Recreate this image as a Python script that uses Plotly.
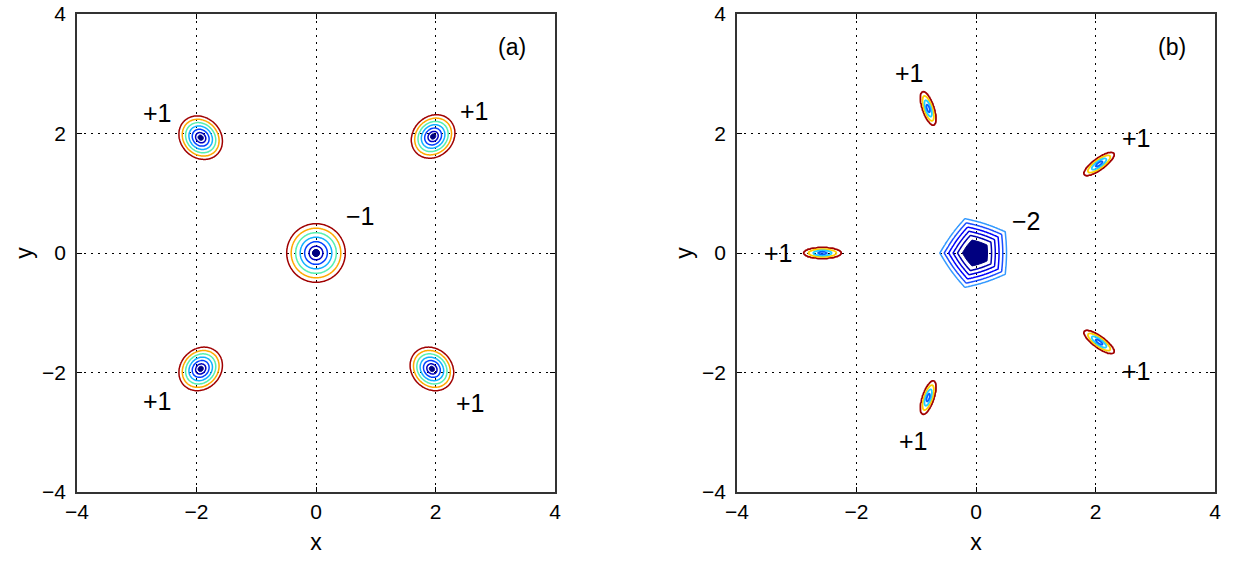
import numpy as np
import plotly.graph_objects as go

# ---------------- data ----------------
# panel (a): five vortex blobs
A_X = [-1.93, 1.96, 0.0, -1.93, 1.94]
A_Y = [1.93, 1.95, 0.0, -1.94, -1.94]
A_MAJOR = [0.40, 0.40, 0.50, 0.40, 0.40]   # half-size along radial direction
A_MINOR = [0.34, 0.34, 0.50, 0.34, 0.34]   # half-size across
A_LABELS = ["+1", "+1", "\u22121", "+1", "+1"]
A_LABEL_X = [-2.66, 2.66, 0.74, -2.66, 2.58]
A_LABEL_Y = [2.34, 2.38, 0.62, -2.48, -2.51]

# panel (b): central pentagonal vortex + five satellites
B_CORE_X = 0.0
B_CORE_Y = 0.0
B_CORE_R = 0.63            # pentagon circumradius
B_CORE_VERTEX_DEG = 180.0  # one vertex points to -x
B_SAT_X = [2.06, -0.80, -2.57, -0.80, 2.06]
B_SAT_Y = [1.49, 2.42, 0.0, -2.42, -1.49]
B_SAT_HALF_LEN = [0.31, 0.30, 0.32, 0.30, 0.31]
B_SAT_HALF_WID = [0.095, 0.095, 0.09, 0.095, 0.095]
B_LABELS = ["+1", "+1", "+1", "+1", "+1", "\u22122"]
B_LABEL_X = [2.68, -1.12, -3.30, -1.04, 2.68, 0.85]
B_LABEL_Y = [1.92, 3.01, 0.0, -3.15, -1.97, 0.54]

TICKS = [-4, -2, 0, 2, 4]
PANEL_TAGS = ["(a)", "(b)"]

# contour level colours (outer -> inner)
A_LEVEL_COLORS = ["#a00000", "#ffa800", "#55f0b0", "#10b0ff", "#0040ff", "#0000c0"]
B_CORE_COLORS = ["#3399ff", "#1a4dff", "#0000ff", "#0000dd", "#0000b0"]
B_SAT_COLORS = ["#a00000", "#ffd000", "#20d0ff", "#0060ff"]
CORE_FILL = "#000080"

# ---------------- fields ----------------
g = np.linspace(-4, 4, 481)
XX, YY = np.meshgrid(g, g)


def blob(cx, cy, a, b):
    ang = np.arctan2(cy, cx) if (cx != 0 or cy != 0) else 0.0
    dx, dy = XX - cx, YY - cy
    u = dx * np.cos(ang) + dy * np.sin(ang)
    v = -dx * np.sin(ang) + dy * np.cos(ang)
    rho = np.sqrt((u / a) ** 2 + (v / b) ** 2)
    return np.clip(1 - rho, 0, None)


FA = np.zeros_like(XX)
for cx, cy, a, b in zip(A_X, A_Y, A_MAJOR, A_MINOR):
    FA = FA + blob(cx, cy, a, b)

# pentagon field (corners slightly rounded)
dx, dy = XX - B_CORE_X, YY - B_CORE_Y
r = np.hypot(dx, dy)
th = np.arctan2(dy, dx) - np.deg2rad(B_CORE_VERTEX_DEG)
seg = 2 * np.pi / 5
phi = np.mod(th, seg) - seg / 2
pent = np.cos(np.pi / 5) / np.cos(phi)
rp = B_CORE_R * (0.8 * pent + 0.2 * 0.9)
FBC = np.clip(1 - r / rp, 0, None)

FBS = np.zeros_like(XX)
for cx, cy, a, b in zip(B_SAT_X, B_SAT_Y, B_SAT_HALF_LEN, B_SAT_HALF_WID):
    FBS = FBS + blob(cx, cy, a, b)


def scale(colors):
    n = len(colors)
    return [[i / (n - 1), c] for i, c in enumerate(colors)]


def line_contour(z, start, size, colors, xa, ya, width=1.5):
    n = len(colors)
    end = start + size * (n - 1)
    return go.Contour(
        x=g, y=g, z=z, xaxis=xa, yaxis=ya,
        contours=dict(start=start, end=end, size=size, coloring="lines"),
        colorscale=scale(colors), zmin=start, zmax=end,
        line=dict(width=width), showscale=False, hoverinfo="skip",
    )


def core_fill(z, value, xa, ya):
    return go.Contour(
        x=g, y=g, z=z, xaxis=xa, yaxis=ya,
        contours=dict(type="constraint", operation="<", value=value),
        fillcolor=CORE_FILL, line=dict(color=CORE_FILL, width=1),
        showscale=False, hoverinfo="skip",
    )


fig = go.Figure()
fig.add_trace(line_contour(FA, 0.02, 0.15, A_LEVEL_COLORS, "x", "y"))
fig.add_trace(core_fill(FA, 0.88, "x", "y"))
fig.add_trace(line_contour(FBC, 0.02, 0.12, B_CORE_COLORS, "x2", "y2"))
fig.add_trace(core_fill(FBC, 0.63, "x2", "y2"))
fig.add_trace(line_contour(FBS, 0.02, 0.25, B_SAT_COLORS, "x2", "y2", width=1.8))

FONT = "Liberation Sans, Arial, Helvetica, sans-serif"

axis_common = dict(
    range=[-4, 4], tickvals=TICKS, ticks="inside", ticklen=5, tickwidth=1,
    tickcolor="black", showline=True, linecolor="#333", linewidth=1.5,
    mirror="ticks", showgrid=True, gridcolor="black", gridwidth=1,
    griddash="2px,5px", zeroline=False, tickfont=dict(size=21, color="black", family=FONT),
    automargin=False,
)

Y0, Y1 = 1 - 492 / 561, 1 - 14 / 561
fig.update_layout(
    width=1233, height=561, margin=dict(l=0, r=0, t=0, b=0),
    paper_bgcolor="white", plot_bgcolor="white", showlegend=False,
    font=dict(family=FONT, color="black"),
    xaxis=dict(axis_common, domain=[77 / 1233, 555 / 1233], anchor="y", ticklabelstandoff=0,
               title=dict(text="x", font=dict(size=23), standoff=12)),
    yaxis=dict(axis_common, domain=[Y0, Y1], anchor="x", ticklabelstandoff=5,
               title=dict(text="y", font=dict(size=23), standoff=3)),
    xaxis2=dict(axis_common, domain=[737 / 1233, 1215 / 1233], anchor="y2", ticklabelstandoff=0,
                title=dict(text="x", font=dict(size=23), standoff=12)),
    yaxis2=dict(axis_common, domain=[Y0, Y1], anchor="x2", ticklabelstandoff=5,
                title=dict(text="y", font=dict(size=23), standoff=3)),
)

ann = []
for t, x, y in zip(A_LABELS, A_LABEL_X, A_LABEL_Y):
    ann.append(dict(text=t, x=x, y=y, xref="x", yref="y", showarrow=False,
                    font=dict(size=25, color="black")))
for t, x, y in zip(B_LABELS, B_LABEL_X, B_LABEL_Y):
    ann.append(dict(text=t, x=x, y=y, xref="x2", yref="y2", showarrow=False,
                    font=dict(size=25, color="black")))
for tag, xr, yr in zip(PANEL_TAGS, ["x", "x2"], ["y", "y2"]):
    ann.append(dict(text=tag, x=3.28, y=3.45, xref=xr, yref=yr, showarrow=False,
                    font=dict(size=23, color="black")))
fig.update_layout(annotations=ann)

fig.write_html("out.html", config={"displayModeBar": False},
               post_script="document.body.style.margin='0';")
